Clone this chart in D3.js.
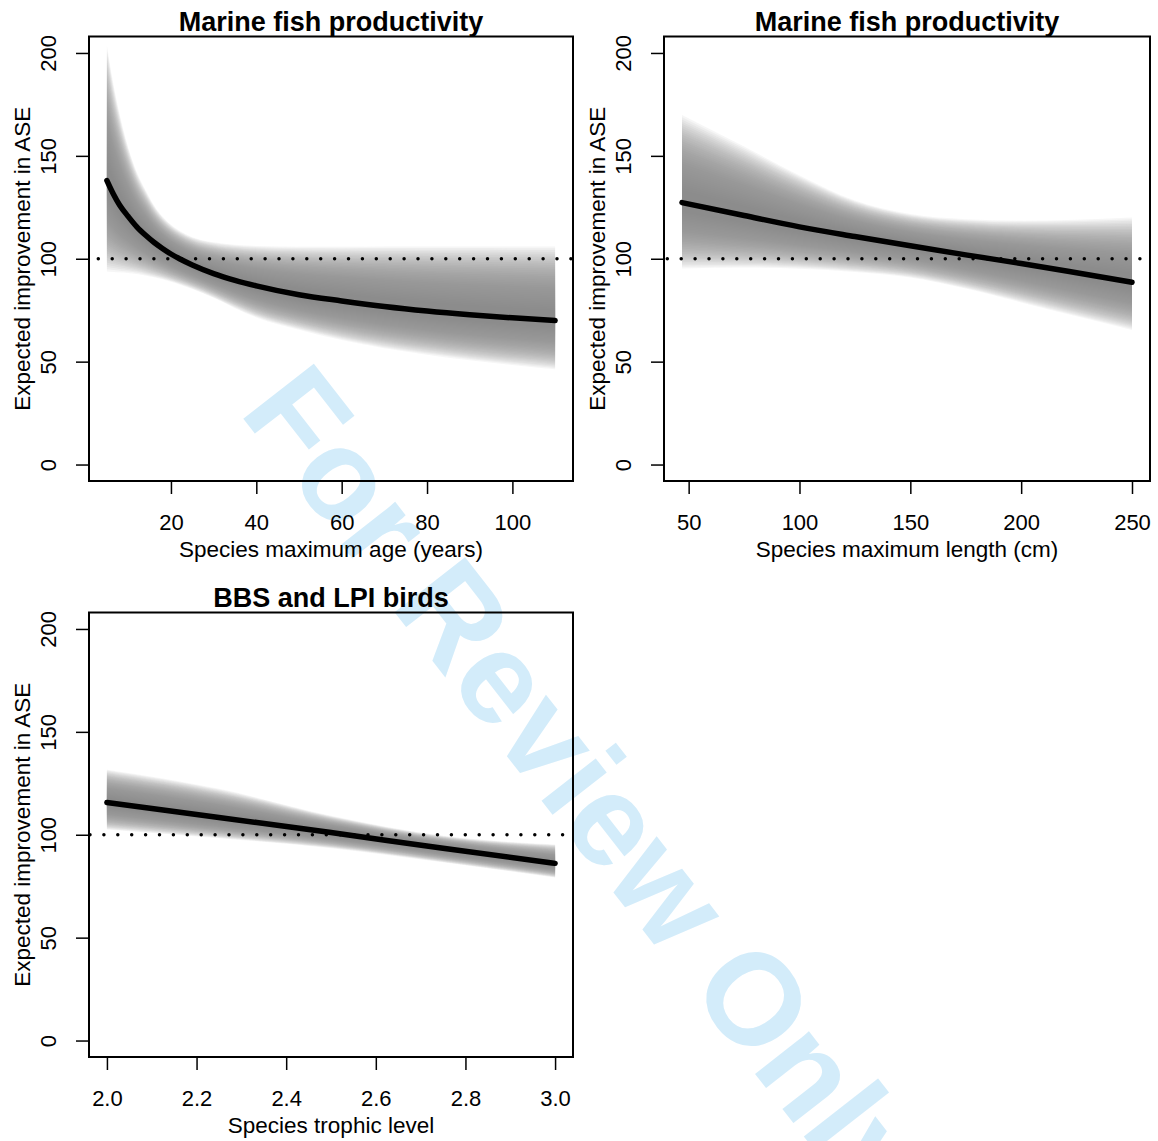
<!DOCTYPE html>
<html>
<head>
<meta charset="utf-8">
<script src="https://cdn.jsdelivr.net/npm/d3@7"></script>
<style>
  body { margin: 0; background: #fff; }
  svg text { font-family: "Liberation Sans", Arial, Helvetica, sans-serif; }
</style>
</head>
<body>
<script>
// panel 1: maximum age
var ageX     = [5, 6.5, 8, 10, 12, 14, 16, 18, 20, 22, 25, 30, 35, 40, 50, 60, 70, 80, 90, 100, 110];
var ageMean  = [138, 131.5, 126, 120.5, 115.5, 111.5, 108, 105, 102.3, 100, 97, 92.8, 89.5, 86.8, 82.5, 79.5, 76.8, 74.6, 72.8, 71.3, 70];
var ageUpper = [203.5, 185, 170, 154, 142, 133.5, 126, 120.5, 116.5, 113.6, 110.5, 108, 106.8, 106.2, 105.8, 105.8, 105.9, 106, 106, 106, 106];
var ageLower = [93.8, 93.6, 93.4, 93.1, 92.6, 91.9, 91, 90, 88.8, 87.5, 85.3, 81, 76, 71.5, 65.5, 60.5, 56.5, 53.4, 50.7, 48.4, 46.3];

// panel 2: maximum length
var lenX     = [47, 75, 100, 125, 150, 175, 200, 225, 250];
var lenMean  = [127.3, 121, 115.5, 110.8, 106.3, 101.9, 97.7, 93.2, 88.6];
var lenUpper = [169.8, 154.5, 140.5, 128.3, 121.7, 119.2, 118.5, 119, 120];
var lenLower = [95.3, 95.7, 95.2, 93.6, 90.9, 85.5, 78.8, 72, 65.4];

// panel 3: trophic level
var troX     = [2.0, 2.25, 2.5, 2.75, 3.0];
var troMean  = [115.7, 108.4, 101.1, 93.4, 86.1];
var troUpper = [131.6, 122.3, 109.2, 99.5, 95.3];
var troLower = [102.5, 98.3, 93.5, 86.6, 79.2];

var yTicks   = [0, 50, 100, 150, 200];
var ageTicks = [20, 40, 60, 80, 100];
var lenTicks = [50, 100, 150, 200, 250];
var troTicks = [2.0, 2.2, 2.4, 2.6, 2.8, 3.0];

var titles  = ['Marine fish productivity', 'Marine fish productivity', 'BBS and LPI birds'];
var xTitles = ['Species maximum age (years)', 'Species maximum length (cm)', 'Species trophic level'];
var yTitle  = 'Expected improvement in ASE';
var refValue = 100;

var svg = d3.select('body')
  .append('svg')
  .attr('width', 1158)
  .attr('height', 1141);

// watermark (runs off the page, as in the original)
svg.append('text')
  .attr('transform', 'translate(238,412) rotate(52)')
  .attr('font-size', 130)
  .attr('font-weight', 'bold')
  .attr('fill', '#d3ecfa')
  .text('For Review Only');

var panels = [
  {xs: ageX, mean: ageMean, upper: ageUpper, lower: ageLower, ticks: ageTicks, fmt: d3.format('d'),
   xlim: [0.8, 114.2], left: 89, right: 573, top: 36.5, bottom: 481, dot: 4.6},
  {xs: lenX, mean: lenMean, upper: lenUpper, lower: lenLower, ticks: lenTicks, fmt: d3.format('d'),
   xlim: [38.88, 258.12], left: 664, right: 1150, top: 36.5, bottom: 481, dot: 10.6},
  {xs: troX, mean: troMean, upper: troUpper, lower: troLower, ticks: troTicks, fmt: d3.format('.1f'),
   xlim: [1.96, 3.04], left: 89, right: 573, top: 612.5, bottom: 1057, dot: 12.9}
];

panels.forEach(function(p, pi){
  var x = d3.scaleLinear().domain(p.xlim).range([p.left, p.right]);
  var y = d3.scaleLinear().domain([-8, 208]).range([p.bottom, p.top]);
  var g = svg.append('g').attr('class', 'panel' + pi);

  // shaded uncertainty: nested translucent bands, darker towards the mean
  var nLayers = 40;
  for (var k = 1; k <= nLayers; k++){
    var f = k / nLayers;
    var area = d3.area()
      .x(function(d, i){ return x(p.xs[i]); })
      .y0(function(d, i){ return y(p.mean[i] + f * (p.lower[i] - p.mean[i])); })
      .y1(function(d, i){ return y(p.mean[i] + f * (p.upper[i] - p.mean[i])); })
      .curve(d3.curveMonotoneX);
    g.append('path')
      .attr('d', area(p.xs))
      .attr('fill', '#878787')
      .attr('fill-opacity', 0.08);
  }

  // dotted reference line
  g.append('line')
    .attr('x1', p.left).attr('x2', p.right)
    .attr('y1', y(refValue)).attr('y2', y(refValue))
    .attr('stroke', '#000')
    .attr('stroke-width', 3.5)
    .attr('stroke-linecap', 'round')
    .attr('stroke-dasharray', '0 13.9')
    .attr('stroke-dashoffset', p.dot);

  var line = d3.line()
    .x(function(d, i){ return x(p.xs[i]); })
    .y(function(d){ return y(d); })
    .curve(d3.curveMonotoneX);
  g.append('path')
    .attr('d', line(p.mean))
    .attr('fill', 'none')
    .attr('stroke', '#000')
    .attr('stroke-width', 5.5)
    .attr('stroke-linecap', 'round')
    .attr('stroke-linejoin', 'round');

  // box
  g.append('rect')
    .attr('x', p.left).attr('y', p.top)
    .attr('width', p.right - p.left).attr('height', p.bottom - p.top)
    .attr('fill', 'none').attr('stroke', '#000').attr('stroke-width', 2);

  // y axis
  var ya = g.append('g')
    .attr('transform', 'translate(' + p.left + ',0)')
    .call(d3.axisLeft(y).tickValues(yTicks).tickSize(13).tickSizeOuter(0));
  ya.select('.domain').remove();
  ya.selectAll('line').attr('stroke-width', 1.5);
  ya.selectAll('text')
    .attr('x', null).attr('dy', null)
    .attr('transform', 'translate(-33,0) rotate(-90)')
    .attr('text-anchor', 'middle')
    .attr('font-size', 22)
    .attr('font-family', null)
    .attr('fill', '#000');

  // x axis
  var xa = g.append('g')
    .attr('transform', 'translate(0,' + p.bottom + ')')
    .call(d3.axisBottom(x).tickValues(p.ticks).tickFormat(p.fmt).tickSize(13).tickSizeOuter(0));
  xa.select('.domain').remove();
  xa.selectAll('line').attr('stroke-width', 1.5);
  xa.selectAll('text')
    .attr('y', 49).attr('dy', null)
    .attr('font-size', 22)
    .attr('font-family', null)
    .attr('fill', '#000');

  // titles
  var cx = (p.left + p.right) / 2;
  svg.append('text')
    .attr('x', cx).attr('y', p.top - 6)
    .attr('text-anchor', 'middle')
    .attr('font-size', 27).attr('font-weight', 'bold')
    .text(titles[pi]);
  svg.append('text')
    .attr('x', cx).attr('y', p.bottom + 76)
    .attr('text-anchor', 'middle')
    .attr('font-size', 22.5)
    .text(xTitles[pi]);
  svg.append('text')
    .attr('transform', 'translate(' + (p.left - 59.5) + ',' + ((p.top + p.bottom) / 2) + ') rotate(-90)')
    .attr('text-anchor', 'middle')
    .attr('font-size', 22.5)
    .text(yTitle);
});
</script>
</body>
</html>
